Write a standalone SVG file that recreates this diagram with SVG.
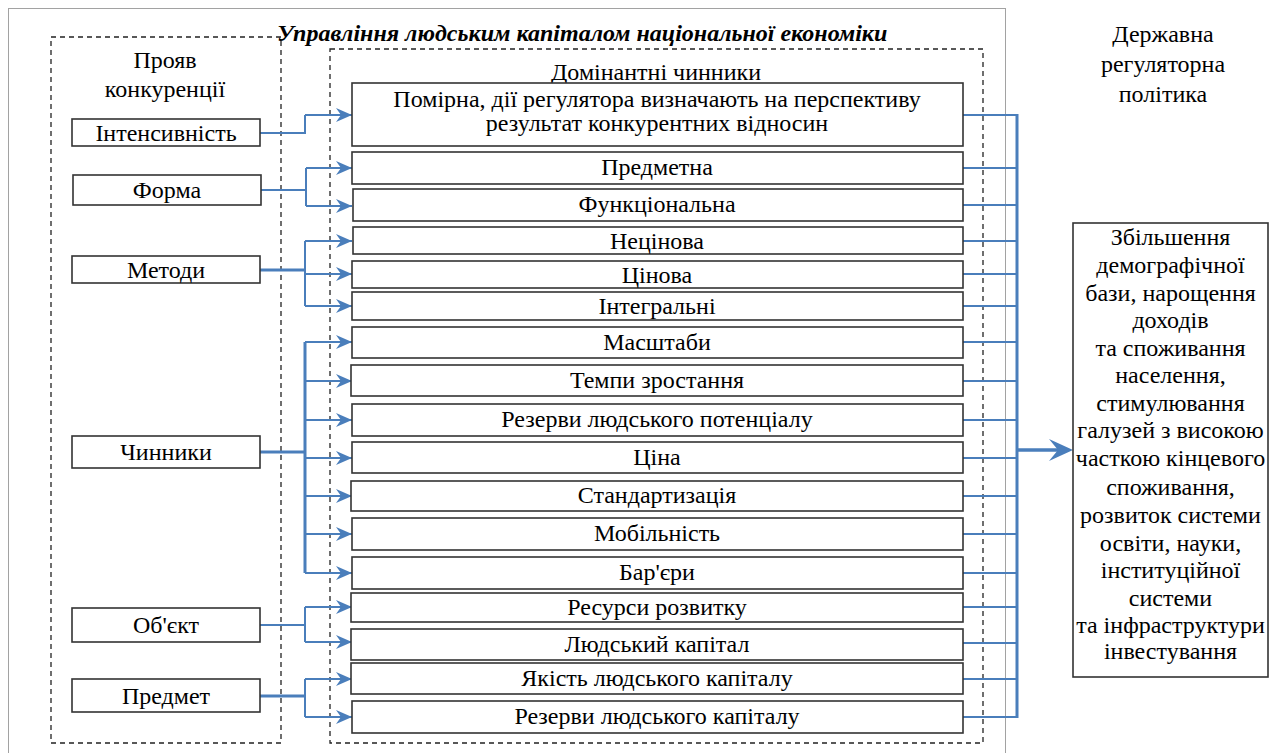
<svg xmlns="http://www.w3.org/2000/svg" width="1272" height="753" viewBox="0 0 1272 753">
<defs>
<marker id="ah" markerUnits="userSpaceOnUse" viewBox="0 0 16 14" refX="16" refY="7" markerWidth="16" markerHeight="14" orient="auto">
<path d="M0,0 L16,7 L0,14 L5,7 Z" fill="#4A7EBB"/>
</marker>
</defs>
<rect width="1272" height="753" fill="#fff"/>
<g id="frames" fill="none">
<rect x="8.5" y="8.5" width="997" height="760" stroke="#444" stroke-width="1" stroke-dasharray="1,1"/>
<rect x="51" y="37" width="230" height="706" stroke="#222" stroke-width="1.3" stroke-dasharray="5,4"/>
<rect x="330" y="49" width="653" height="694" stroke="#222" stroke-width="1.3" stroke-dasharray="5,4"/>
</g>
<text id="title" x="277" y="41" font-family="'Liberation Serif', serif" font-size="24" font-weight="bold" font-style="italic">Управління людським капіталом національної економіки</text>
<g id="left-header">
<text x="165" y="68" font-family="'Liberation Serif', serif" font-size="24" text-anchor="middle">Прояв</text>
<text x="165" y="97" font-family="'Liberation Serif', serif" font-size="24" text-anchor="middle">конкуренції</text>
</g>
<text id="mid-header" x="656" y="80" font-family="'Liberation Serif', serif" font-size="24" text-anchor="middle">Домінантні чинники</text>
<g id="right-header">
<text x="1163" y="42" font-family="'Liberation Serif', serif" font-size="24" text-anchor="middle">Державна</text>
<text x="1163" y="72" font-family="'Liberation Serif', serif" font-size="24" text-anchor="middle">регуляторна</text>
<text x="1163" y="102" font-family="'Liberation Serif', serif" font-size="24" text-anchor="middle">політика</text>
</g>
<g id="connectors" fill="none" stroke="#4A7EBB" stroke-width="2">
<path d="M260,133 H305 V115"/>
<path d="M261,190 H306 M306,168 V206"/>
<path d="M260,270 H305" stroke-width="3"/>
<path d="M305,241 V306"/>
<path d="M260,452 H305 M305,342 V573" stroke-width="3"/>
<path d="M260,625 H305 M305,607 V642"/>
<path d="M260,696 H305" stroke-width="3"/>
<path d="M305,679 V717"/>
<g marker-end="url(#ah)">
<path d="M305,115 H352"/>
<path d="M306,168 H352"/>
<path d="M306,206 H352"/>
<path d="M305,241 H352"/>
<path d="M305,274 H352"/>
<path d="M305,306 H352"/>
<path d="M305,342 H352"/>
<path d="M305,381 H352"/>
<path d="M305,420 H352"/>
<path d="M305,458 H352"/>
<path d="M305,496 H352"/>
<path d="M305,534 H352"/>
<path d="M305,573 H352"/>
<path d="M305,607 H352"/>
<path d="M305,642 H352"/>
<path d="M305,679 H352"/>
<path d="M305,717 H352"/>
</g>
<path d="M963,115 H1017 M963,168 H1017 M963,205 H1017 M963,241 H1017 M963,274 H1017 M963,306 H1017 M963,342 H1017 M963,381 H1017 M963,420 H1017 M963,458 H1017 M963,496 H1017 M963,534 H1017 M963,573 H1017 M963,607 H1017 M963,643 H1017 M963,679 H1017 M963,717 H1017"/>
<path d="M1017,114 V718" stroke-width="3"/>
<path d="M1018,450 H1062" stroke-width="3.5"/>
<path d="M1049,439 L1073,450 L1049,461 L1058,450 Z" fill="#4A7EBB" stroke="none"/>
</g>
<g id="nodes" fill="#fff" stroke="#333" stroke-width="1.6">
<g id="n-intensity"><rect x="72" y="119" width="188" height="27"/><text x="166" y="141" fill="#000" stroke="none" font-family="'Liberation Serif', serif" font-size="24" text-anchor="middle">Інтенсивність</text></g>
<g id="n-form"><rect x="73" y="175" width="188" height="30"/><text x="167" y="198" fill="#000" stroke="none" font-family="'Liberation Serif', serif" font-size="24" text-anchor="middle">Форма</text></g>
<g id="n-methods"><rect x="72" y="256" width="188" height="27"/><text x="166" y="278" fill="#000" stroke="none" font-family="'Liberation Serif', serif" font-size="24" text-anchor="middle">Методи</text></g>
<g id="n-factors"><rect x="72" y="436" width="188" height="32"/><text x="166" y="460" fill="#000" stroke="none" font-family="'Liberation Serif', serif" font-size="24" text-anchor="middle">Чинники</text></g>
<g id="n-object"><rect x="72" y="608" width="188" height="34"/><text x="166" y="633" fill="#000" stroke="none" font-family="'Liberation Serif', serif" font-size="24" text-anchor="middle">Об'єкт</text></g>
<g id="n-subject"><rect x="72" y="679" width="188" height="33"/><text x="166" y="704" fill="#000" stroke="none" font-family="'Liberation Serif', serif" font-size="24" text-anchor="middle">Предмет</text></g>
<g id="m1"><rect x="352" y="83" width="611" height="63"/><text x="657" y="107" fill="#000" stroke="none" font-family="'Liberation Serif', serif" font-size="24" text-anchor="middle">Помірна, дії регулятора визначають на перспективу</text><text x="657" y="131" fill="#000" stroke="none" font-family="'Liberation Serif', serif" font-size="24" text-anchor="middle">результат конкурентних відносин</text></g>
<g id="m2"><rect x="352" y="152" width="611" height="32"/><text x="657" y="175" fill="#000" stroke="none" font-family="'Liberation Serif', serif" font-size="24" text-anchor="middle">Предметна</text></g>
<g id="m3"><rect x="353" y="189" width="610" height="32"/><text x="657" y="212" fill="#000" stroke="none" font-family="'Liberation Serif', serif" font-size="24" text-anchor="middle">Функціональна</text></g>
<g id="m4"><rect x="353" y="227" width="610" height="27"/><text x="657" y="249" fill="#000" stroke="none" font-family="'Liberation Serif', serif" font-size="24" text-anchor="middle">Нецінова</text></g>
<g id="m5"><rect x="352" y="261" width="611" height="27"/><text x="657" y="283" fill="#000" stroke="none" font-family="'Liberation Serif', serif" font-size="24" text-anchor="middle">Цінова</text></g>
<g id="m6"><rect x="352" y="292" width="611" height="28"/><text x="657" y="314" fill="#000" stroke="none" font-family="'Liberation Serif', serif" font-size="24" text-anchor="middle">Інтегральні</text></g>
<g id="m7"><rect x="352" y="327" width="611" height="31"/><text x="657" y="350" fill="#000" stroke="none" font-family="'Liberation Serif', serif" font-size="24" text-anchor="middle">Масштаби</text></g>
<g id="m8"><rect x="351" y="365" width="612" height="31"/><text x="657" y="388" fill="#000" stroke="none" font-family="'Liberation Serif', serif" font-size="24" text-anchor="middle">Темпи зростання</text></g>
<g id="m9"><rect x="352" y="404" width="611" height="32"/><text x="657" y="427" fill="#000" stroke="none" font-family="'Liberation Serif', serif" font-size="24" text-anchor="middle">Резерви людського потенціалу</text></g>
<g id="m10"><rect x="352" y="442" width="611" height="31"/><text x="657" y="465" fill="#000" stroke="none" font-family="'Liberation Serif', serif" font-size="24" text-anchor="middle">Ціна</text></g>
<g id="m11"><rect x="351" y="481" width="612" height="30"/><text x="657" y="503" fill="#000" stroke="none" font-family="'Liberation Serif', serif" font-size="24" text-anchor="middle">Стандартизація</text></g>
<g id="m12"><rect x="352" y="518" width="611" height="32"/><text x="657" y="541" fill="#000" stroke="none" font-family="'Liberation Serif', serif" font-size="24" text-anchor="middle">Мобільність</text></g>
<g id="m13"><rect x="352" y="557" width="611" height="32"/><text x="657" y="580" fill="#000" stroke="none" font-family="'Liberation Serif', serif" font-size="24" text-anchor="middle">Бар'єри</text></g>
<g id="m14"><rect x="351" y="593" width="612" height="29"/><text x="657" y="615" fill="#000" stroke="none" font-family="'Liberation Serif', serif" font-size="24" text-anchor="middle">Ресурси розвитку</text></g>
<g id="m15"><rect x="351" y="629" width="612" height="31"/><text x="657" y="652" fill="#000" stroke="none" font-family="'Liberation Serif', serif" font-size="24" text-anchor="middle">Людський капітал</text></g>
<g id="m16"><rect x="351" y="663" width="612" height="31"/><text x="657" y="686" fill="#000" stroke="none" font-family="'Liberation Serif', serif" font-size="24" text-anchor="middle">Якість людського капіталу</text></g>
<g id="m17"><rect x="352" y="701" width="611" height="32"/><text x="657" y="724" fill="#000" stroke="none" font-family="'Liberation Serif', serif" font-size="24" text-anchor="middle">Резерви людського капіталу</text></g>
<g id="n-result"><rect x="1073" y="223" width="195" height="454"/>
<g fill="#000" stroke="none" font-family="'Liberation Serif', serif" font-size="24" text-anchor="middle">
<text x="1170.5" y="245">Збільшення</text>
<text x="1170.5" y="273">демографічної</text>
<text x="1170.5" y="300.5">бази, нарощення</text>
<text x="1170.5" y="328">доходів</text>
<text x="1170.5" y="356">та споживання</text>
<text x="1170.5" y="383">населення,</text>
<text x="1170.5" y="410.5">стимулювання</text>
<text x="1170.5" y="438">галузей з високою</text>
<text x="1170.5" y="465.5">часткою кінцевого</text>
<text x="1170.5" y="495">споживання,</text>
<text x="1170.5" y="523">розвиток системи</text>
<text x="1170.5" y="551">освіти, науки,</text>
<text x="1170.5" y="578">інституційної</text>
<text x="1170.5" y="606">системи</text>
<text x="1170.5" y="633">та інфраструктури</text>
<text x="1170.5" y="659">інвестування</text>
</g>
</g>
</g>
</svg>
